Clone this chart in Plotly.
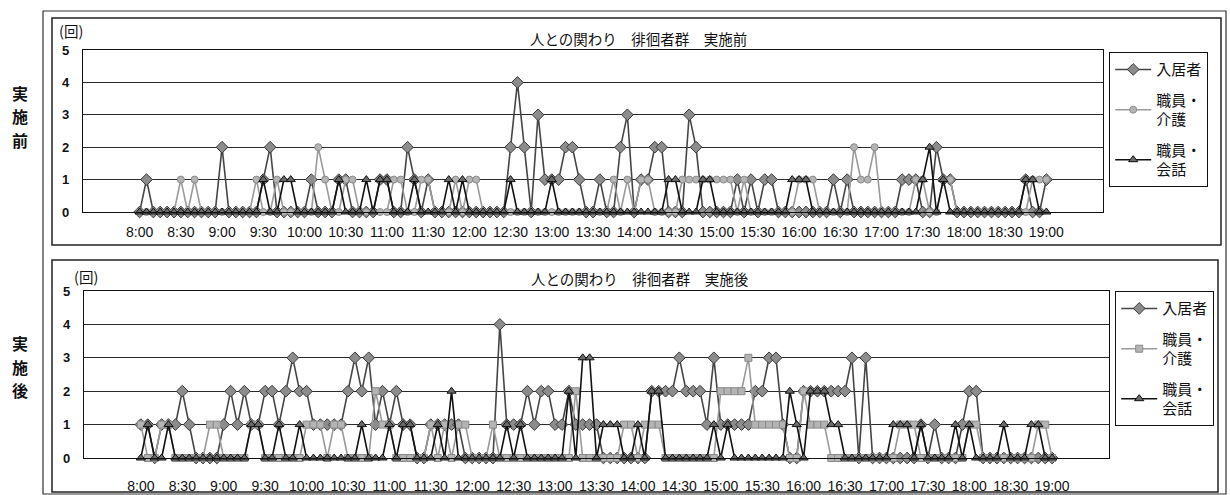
import plotly.graph_objects as go

# ---- categories (5-minute slots 8:00 .. 19:00) ----
times = [f"{8 + m // 60}:{m % 60:02d}" for m in range(0, 661, 5)]
tick_labels = ["8:00", "8:30", "9:00", "9:30", "10:00", "10:30", "11:00", "11:30",
               "12:00", "12:30", "13:00", "13:30", "14:00", "14:30", "15:00", "15:30",
               "16:00", "16:30", "17:00", "17:30", "18:00", "18:30", "19:00"]
y_ticks = [0, 1, 2, 3, 4, 5]

series_names = ["入居者", "職員・<br>介護", "職員・<br>会話"]

# ---- 実施前 (before) ----
resident_pre = (
    [0, 1, 0, 0, 0, 0, 0, 0, 0, 0, 0, 0] +
    [2, 0, 0, 0, 0, 0, 1, 2, 0, 0, 0, 0] +
    [0, 1, 0, 0, 0, 1, 1, 0, 0, 0, 0, 1] +
    [1, 0, 0, 2, 1, 0, 1, 0, 0, 0, 0, 0] +
    [0, 0, 0, 0, 0, 0, 2, 4, 2, 0, 3, 1] +
    [1, 1, 2, 2, 1, 0, 0, 1, 0, 0, 2, 3] +
    [0, 1, 1, 2, 2, 0, 0, 0, 3, 2, 0, 0] +
    [0, 0, 0, 1, 0, 1, 0, 1, 1, 0, 0, 0] +
    [0, 0, 0, 0, 0, 1, 0, 1, 0, 0, 0, 0] +
    [0, 0, 0, 1, 1, 1, 0, 0, 2, 1, 1, 0] +
    [0, 0, 0, 0, 0, 0, 0, 0, 0, 1, 0, 0] +
    [1]
)
care_pre = (
    [0, 0, 0, 0, 0, 0, 1, 0, 1, 0, 0, 0] +
    [0, 0, 0, 0, 0, 1, 0, 0, 1, 0, 0, 0] +
    [0, 0, 2, 1, 0, 0, 1, 1, 0, 0, 0, 0] +
    [0, 1, 1, 0, 0, 1, 1, 0, 0, 0, 1, 0] +
    [1, 1, 0, 0, 0, 0, 0, 0, 0, 0, 0, 0] +
    [0, 0, 0, 0, 0, 0, 0, 0, 0, 1, 0, 1] +
    [0, 1, 1, 0, 0, 0, 0, 1, 1, 1, 1, 1] +
    [1, 1, 1, 0, 1, 0, 0, 0, 0, 0, 0, 0] +
    [1, 1, 1, 0, 0, 0, 0, 0, 2, 1, 1, 2] +
    [0, 0, 0, 0, 0, 1, 1, 0, 0, 1, 1, 0] +
    [0, 0, 0, 0, 0, 0, 0, 0, 0, 0, 1, 1] +
    [1]
)
talk_pre = (
    [0, 0, 0, 0, 0, 0, 0, 0, 0, 0, 0, 0] +
    [0, 0, 0, 0, 0, 0, 1, 0, 0, 1, 1, 0] +
    [0, 0, 0, 0, 0, 1, 0, 0, 0, 1, 0, 1] +
    [1, 0, 0, 0, 1, 0, 0, 0, 0, 1, 0, 1] +
    [0, 0, 0, 0, 0, 0, 1, 0, 0, 0, 0, 0] +
    [1, 0, 0, 0, 0, 0, 0, 0, 0, 0, 0, 0] +
    [0, 0, 0, 0, 0, 1, 1, 0, 0, 0, 1, 1] +
    [0, 0, 0, 0, 0, 0, 0, 0, 0, 0, 0, 1] +
    [1, 1, 0, 0, 0, 0, 0, 0, 0, 0, 0, 0] +
    [0, 0, 0, 0, 0, 0, 1, 2, 0, 1, 0, 0] +
    [0, 0, 0, 0, 0, 0, 0, 0, 0, 1, 1, 0] +
    [0]
)

# ---- 実施後 (after) ----
resident_post = (
    [1, 1, 0, 1, 1, 1, 2, 1, 0, 0, 0, 0] +
    [1, 2, 1, 2, 1, 1, 2, 2, 1, 2, 3, 2] +
    [2, 1, 1, 1, 1, 1, 2, 3, 2, 3, 1, 2] +
    [1, 2, 1, 1, 0, 0, 1, 1, 1, 1, 1, 0] +
    [0, 0, 0, 0, 4, 1, 1, 1, 2, 1, 2, 2] +
    [1, 1, 2, 1, 1, 1, 1, 0, 0, 0, 0, 0] +
    [0, 0, 2, 2, 2, 2, 3, 2, 2, 2, 1, 3] +
    [1, 1, 1, 1, 1, 2, 2, 3, 3, 1, 0, 0] +
    [2, 2, 2, 2, 2, 2, 2, 3, 0, 3, 0, 0] +
    [0, 0, 0, 0, 0, 1, 0, 1, 0, 0, 0, 1] +
    [2, 2, 0, 0, 0, 0, 0, 0, 0, 0, 0, 0] +
    [0]
)
care_post = (
    [1, 0, 0, 1, 1, 0, 0, 0, 0, 0, 1, 1] +
    [0, 0, 0, 0, 1, 1, 0, 0, 0, 0, 0, 0] +
    [1, 1, 1, 0, 1, 1, 0, 0, 0, 0, 2, 1] +
    [1, 0, 0, 0, 0, 0, 1, 0, 1, 0, 1, 1] +
    [0, 0, 0, 1, 0, 0, 0, 0, 0, 0, 0, 0] +
    [0, 0, 0, 2, 0, 0, 0, 0, 0, 0, 1, 1] +
    [0, 1, 1, 1, 0, 0, 0, 0, 0, 0, 0, 0] +
    [2, 2, 2, 2, 3, 1, 1, 1, 1, 1, 0, 0] +
    [2, 1, 1, 1, 0, 0, 0, 0, 0, 0, 0, 0] +
    [0, 0, 1, 1, 1, 0, 0, 0, 0, 0, 0, 0] +
    [1, 1, 0, 0, 0, 0, 0, 0, 0, 0, 1, 1] +
    [0]
)
talk_post = (
    [0, 1, 0, 0, 1, 0, 0, 0, 0, 0, 0, 0] +
    [0, 0, 0, 0, 1, 1, 0, 0, 1, 0, 0, 1] +
    [0, 0, 0, 0, 0, 0, 0, 0, 1, 0, 0, 0] +
    [1, 0, 1, 1, 0, 0, 0, 1, 0, 2, 0, 0] +
    [0, 0, 0, 0, 0, 1, 0, 1, 0, 0, 0, 0] +
    [0, 0, 2, 0, 3, 3, 0, 1, 1, 1, 0, 0] +
    [1, 0, 2, 2, 0, 0, 0, 0, 0, 0, 0, 1] +
    [0, 1, 0, 0, 0, 0, 0, 0, 0, 0, 2, 1] +
    [0, 2, 2, 2, 1, 1, 0, 0, 0, 0, 0, 0] +
    [0, 1, 1, 1, 0, 1, 0, 0, 0, 0, 1, 0] +
    [1, 0, 0, 0, 0, 1, 0, 0, 0, 1, 1, 0] +
    [0]
)

W, H = 1230, 495
FONT = "Liberation Sans, Arial, Noto Sans CJK JP, sans-serif"
JFONT = "Noto Sans CJK JP, sans-serif"

def px(x):
    return x / W

def py(y):
    return 1 - y / H

fig = go.Figure()

def add_series(vals, name, xa, ya, legend, kind, care_symbol):
    if kind == 0:
        line = dict(color="#454545", width=1.6)
        marker = dict(symbol="diamond", size=9, color="#8c8c8c",
                      line=dict(color="#3a3a3a", width=1))
    elif kind == 1:
        line = dict(color="#9a9a9a", width=1.6)
        marker = dict(symbol=care_symbol, size=7, color="#b4b4b4",
                      line=dict(color="#8a8a8a", width=1))
    else:
        line = dict(color="#111111", width=1.6)
        marker = dict(symbol="triangle-up", size=8, color="#6a6a6a",
                      line=dict(color="#111111", width=1))
    fig.add_trace(go.Scatter(
        x=times, y=vals, name=name, mode="lines+markers",
        line=line, marker=marker, xaxis=xa, yaxis=ya, legend=legend,
        cliponaxis=False, legendgroup=legend + str(kind),
    ))

pre = [resident_pre, care_pre, talk_pre]
post = [resident_post, care_post, talk_post]
for k in range(3):
    add_series(pre[k], series_names[k], "x", "y", "legend", k, "circle")
for k in range(3):
    add_series(post[k], series_names[k], "x2", "y2", "legend2", k, "square")

axis_common = dict(showline=True, linecolor="#111", linewidth=1.3, mirror=True,
                   automargin=False)

fig.update_layout(
    width=W, height=H, autosize=False,
    margin=dict(l=0, r=0, t=0, b=0, autoexpand=False),
    paper_bgcolor="white", plot_bgcolor="white",
    font=dict(family=FONT, size=12, color="#111"),
    xaxis=dict(domain=[px(83), px(1103)], anchor="y", type="category",
               categoryorder="array", categoryarray=times,
               tickmode="array", tickvals=tick_labels, ticktext=tick_labels,
               showgrid=False, ticks="", ticklabelstandoff=7,
               tickfont=dict(size=14), **axis_common),
    yaxis=dict(domain=[py(212), py(50)], anchor="x", range=[0, 5],
               tickvals=y_ticks, showgrid=True, gridcolor="#2a2a2a", gridwidth=1.3,
               zeroline=False, ticks="", ticklabelstandoff=10,
               tickfont=dict(size=13, weight="bold"), **axis_common),
    xaxis2=dict(domain=[px(84), px(1109)], anchor="y2", type="category",
                categoryorder="array", categoryarray=times,
                tickmode="array", tickvals=tick_labels, ticktext=tick_labels,
                showgrid=False, ticks="", ticklabelstandoff=15,
                tickfont=dict(size=14), **axis_common),
    yaxis2=dict(domain=[py(458), py(291)], anchor="x2", range=[0, 5],
                tickvals=y_ticks, showgrid=True, gridcolor="#2a2a2a", gridwidth=1.3,
                zeroline=False, ticks="", ticklabelstandoff=10,
                tickfont=dict(size=13, weight="bold"), **axis_common),
    legend=dict(x=px(1109), y=py(52), xanchor="left", yanchor="top",
                bordercolor="#111", borderwidth=1.2, bgcolor="white",
                font=dict(family=JFONT, size=15, color="#111"), itemwidth=36,
                tracegroupgap=8, traceorder="grouped"),
    legend2=dict(x=px(1115), y=py(291), xanchor="left", yanchor="top",
                 bordercolor="#111", borderwidth=1.2, bgcolor="white",
                 font=dict(family=JFONT, size=15, color="#111"), itemwidth=36,
                 tracegroupgap=8, traceorder="grouped"),
    showlegend=True,
)

shapes = [
    # outer frame
    dict(type="rect", xref="paper", yref="paper", x0=px(43), x1=px(1226),
         y0=py(494), y1=py(11), line=dict(color="#333", width=1.2)),
    # chart boxes
    dict(type="rect", xref="paper", yref="paper", x0=px(52), x1=px(1221),
         y0=py(245), y1=py(18), line=dict(color="#222", width=1.5)),
    dict(type="rect", xref="paper", yref="paper", x0=px(52), x1=px(1218),
         y0=py(492), y1=py(260), line=dict(color="#222", width=1.5)),
]
fig.update_layout(shapes=shapes)

ann = [
    dict(text="人との関わり　徘徊者群　実施前", x=px(638), y=py(38)),
    dict(text="人との関わり　徘徊者群　実施後", x=px(640), y=py(278)),
    dict(text="(回)", x=px(71), y=py(31)),
    dict(text="(回)", x=px(86), y=py(276)),
]
annotations = []
for a in ann:
    annotations.append(dict(xref="paper", yref="paper", xanchor="center", yanchor="middle",
                            showarrow=False,
                            font=dict(family=JFONT, size=14.5, color="#111"), **a))
side_chars = [("実", 93), ("施", 116.5), ("前", 140), ("実", 343), ("施", 366.5), ("後", 390)]
for ch, yy in side_chars:
    annotations.append(dict(text=ch, x=px(20), y=py(yy), xref="paper", yref="paper",
                            xanchor="center", yanchor="middle", showarrow=False,
                            font=dict(family=JFONT, size=16, color="#111", weight="bold")))
fig.update_layout(annotations=annotations)

fig.write_html("out.html", config={"displayModeBar": False},
               post_script="document.body.style.margin='0';")
